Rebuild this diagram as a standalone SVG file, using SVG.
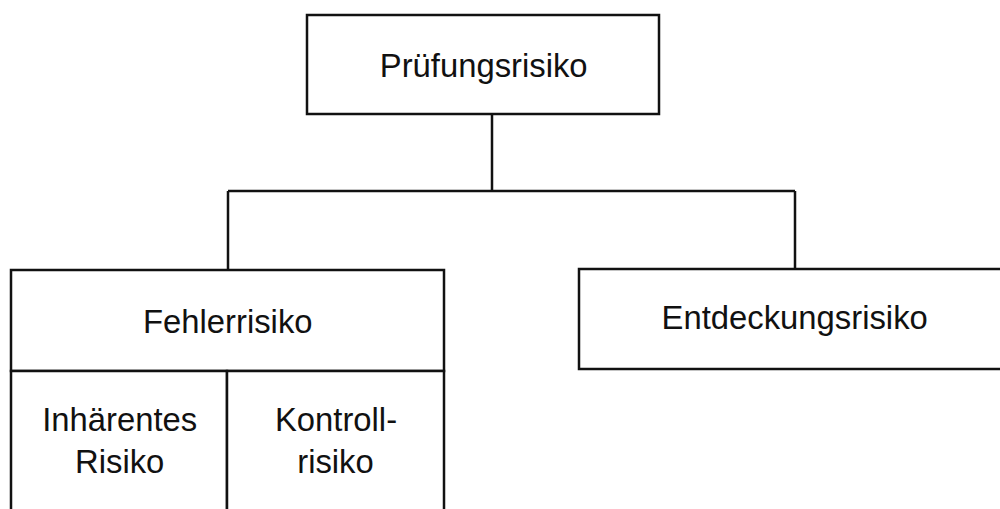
<svg xmlns="http://www.w3.org/2000/svg" width="1000" height="509" viewBox="0 0 1000 509">
<style>
.box{fill:#fff;stroke:#111;stroke-width:2.5}
.ln{fill:none;stroke:#111;stroke-width:2.5}
.t{font-family:"Liberation Sans",Arial,sans-serif;font-size:32.8px;fill:#111;text-anchor:middle}
</style>
<rect width="1000" height="509" fill="#fff"/>
<g id="connectors">
<path class="ln" d="M492 114 V191 M228 191 H795 M228 191 V270 M795 191 V269"/>
</g>
<g id="pruefungsrisiko">
<rect class="box" x="307" y="15" width="352" height="99"/>
<text class="t" x="483.7" y="77">Prüfungsrisiko</text>
</g>
<g id="fehlerrisiko">
<rect class="box" x="11" y="270" width="433" height="101"/>
<text class="t" x="227.8" y="333">Fehlerrisiko</text>
</g>
<g id="inhaerentes-risiko">
<rect class="box" x="11" y="371" width="216" height="150"/>
<text class="t" x="119.7" y="431">Inhärentes</text>
<text class="t" x="119.7" y="473">Risiko</text>
</g>
<g id="kontrollrisiko">
<rect class="box" x="227" y="371" width="217" height="150"/>
<text class="t" x="336" y="431">Kontroll-</text>
<text class="t" x="335.5" y="473">risiko</text>
</g>
<g id="entdeckungsrisiko">
<rect class="box" x="579" y="269" width="440" height="100"/>
<text class="t" x="794.7" y="329">Entdeckungsrisiko</text>
</g>
</svg>
